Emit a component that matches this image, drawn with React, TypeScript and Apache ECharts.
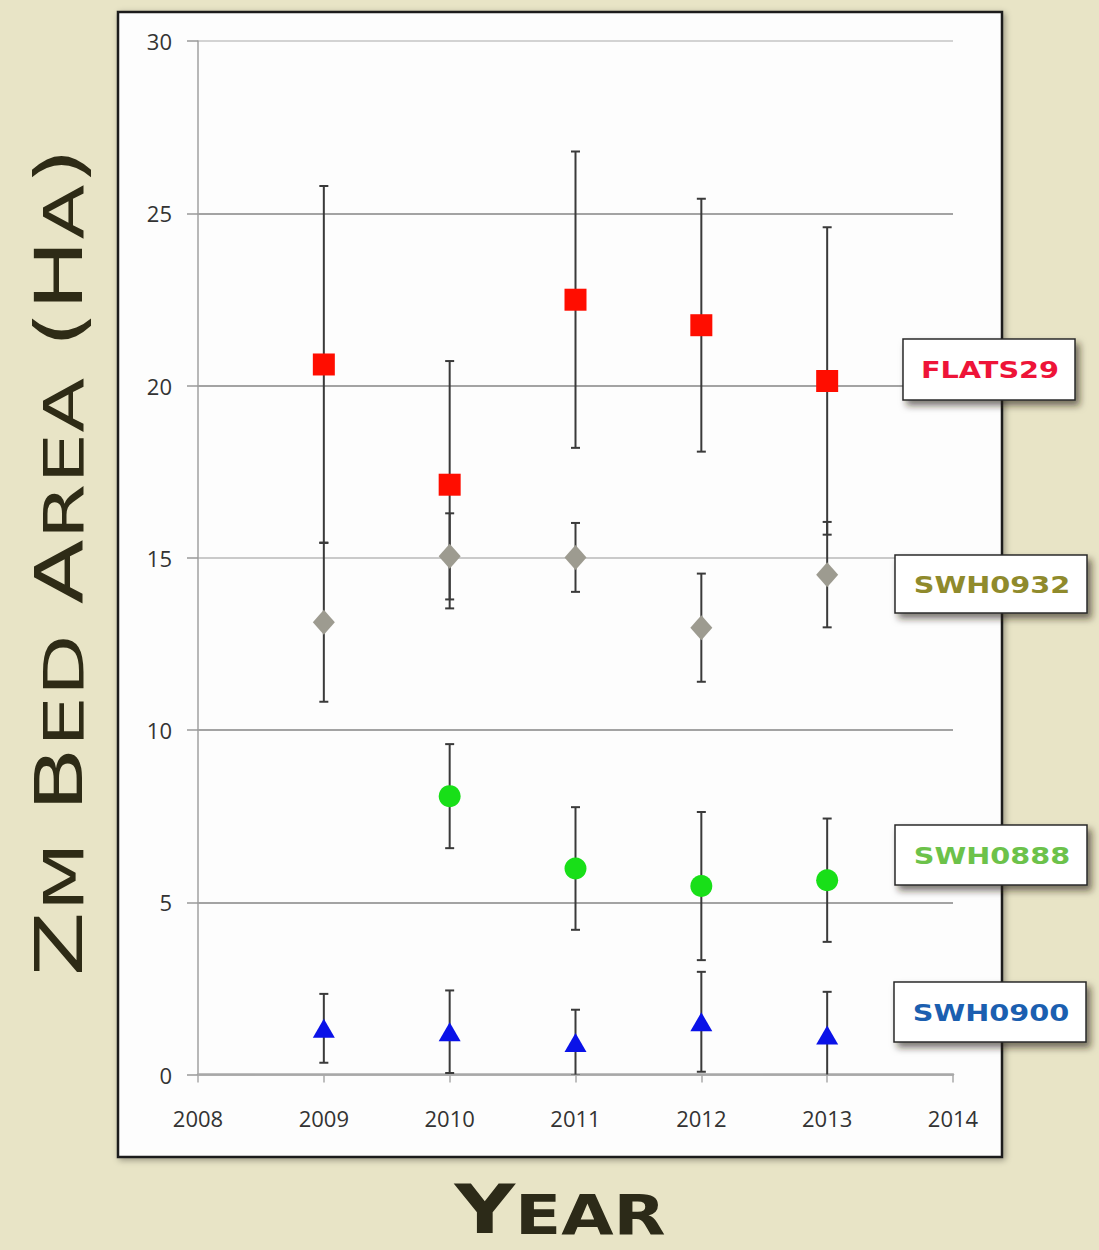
import React, { useEffect, useRef } from "react";
import * as echarts from "echarts";

const years = [2009, 2010, 2011, 2012, 2013];
const xTickLabels = ["2008", "2009", "2010", "2011", "2012", "2013", "2014"];
const yTickLabels = ["0", "5", "10", "15", "20", "25", "30"];

const flats29 = [20.61, 17.12, 22.49, 21.75, 20.13];
const flats29Err = [5.18, 3.59, 4.3, 3.67, 4.46];
const swh0932 = [13.13, 15.04, 15.01, 12.97, 14.51];
const swh0932Err = [2.31, 1.25, 1.0, 1.57, 1.53];
const swh0888: (number | null)[] = [null, 8.08, 5.98, 5.47, 5.64];
const swh0888Err: (number | null)[] = [null, 1.51, 1.78, 2.15, 1.79];
const swh0900 = [1.34, 1.24, 0.93, 1.53, 1.15];
const swh0900Err = [1.0, 1.2, 0.95, 1.45, 1.25];

const seriesNames = ["FLATS29", "SWH0932", "SWH0888", "SWH0900"];
const seriesColors = ["#ff0d00", "#9d9b90", "#18df18", "#0a12e8"];
const labelColors = ["#ee1438", "#8f8a2c", "#6cc24a", "#1b5fb0"];

function points(vals: (number | null)[]) {
  const out: number[][] = [];
  vals.forEach((v, i) => {
    if (v != null) out.push([years[i], v]);
  });
  return out;
}
function bars(vals: (number | null)[], errs: (number | null)[]) {
  const out: number[][] = [];
  vals.forEach((v, i) => {
    const e = errs[i];
    if (v != null && e != null) out.push([years[i], v - e, v + e]);
  });
  return out;
}

function errorSeries(data: number[][]) {
  return {
    type: "custom",
    clip: true,
    z: 2,
    encode: { x: 0, y: [1, 2] },
    data,
    renderItem: (params: any, api: any) => {
      const x = api.value(0);
      const lo = api.coord([x, api.value(1)]);
      const hi = api.coord([x, api.value(2)]);
      const w = 4.5;
      const style = { stroke: "#3a3a3a", lineWidth: 2 };
      return {
        type: "group",
        children: [
          { type: "line", shape: { x1: lo[0], y1: lo[1], x2: hi[0], y2: hi[1] }, style },
          { type: "line", shape: { x1: hi[0] - w, y1: hi[1], x2: hi[0] + w, y2: hi[1] }, style },
          { type: "line", shape: { x1: lo[0] - w, y1: lo[1], x2: lo[0] + w, y2: lo[1] }, style },
        ],
      };
    },
  };
}

const legendBoxes = [
  { x: 903, y: 339, w: 172, h: 61 },
  { x: 895, y: 555, w: 192, h: 58 },
  { x: 895, y: 825, w: 192, h: 60 },
  { x: 894, y: 982, w: 192, h: 60 },
];

export default function App() {
  const ref = useRef<HTMLDivElement>(null);
  useEffect(() => {
    document.body.style.margin = "0";
    if (!ref.current) return;
    const chart = echarts.init(ref.current, null, { renderer: "svg" });

    const legendEls: any[] = [];
    legendBoxes.forEach((b, i) => {
      legendEls.push({
        type: "rect",
        z: 100,
        shape: { x: b.x, y: b.y, width: b.w, height: b.h },
        style: {
          fill: "#ffffff",
          stroke: "#2a2a2a",
          lineWidth: 1.5,
          shadowBlur: 7,
          shadowOffsetX: 4,
          shadowOffsetY: 5,
          shadowColor: "rgba(40,35,10,0.6)",
        },
      });
      legendEls.push({
        type: "text",
        z: 101,
        x: b.x + b.w / 2 + 1,
        y: b.y + b.h / 2 + 1,
        scaleX: 1.25,
        style: {
          text: seriesNames[i],
          fill: labelColors[i],
          fontFamily: "DejaVu Sans",
          fontWeight: "bold",
          fontSize: 23,
          align: "center",
          verticalAlign: "middle",
        },
      });
    });

    const scatterBase = { type: "scatter", z: 5 };

    chart.setOption({
      animation: false,
      backgroundColor: "#e8e4c6",
      grid: {
        left: 198,
        right: 146,
        top: 41,
        bottom: 175.5,
        containLabel: false,
        outerBoundsMode: "none",
      },
      xAxis: {
        type: "value",
        min: 2008,
        max: 2014,
        interval: 1,
        axisLine: { show: true, lineStyle: { color: "#a8a8a8", width: 2.5 } },
        axisTick: { show: true, inside: false, length: 8, lineStyle: { color: "#a8a8a8", width: 1.5 } },
        splitLine: { show: false },
        axisLabel: {
          margin: 32,
          fontFamily: "Open Sans",
          fontSize: 22,
          color: "#333333",
          formatter: (v: number) => xTickLabels[Math.round(v - 2008)] ?? "",
        },
      },
      yAxis: {
        type: "value",
        min: 0,
        max: 30,
        interval: 5,
        axisLine: { show: true, lineStyle: { color: "#a0a0a0", width: 1.5 } },
        axisTick: { show: true, inside: false, length: 11, lineStyle: { color: "#999999", width: 1.5 } },
        splitLine: {
          show: true,
          lineStyle: {
            color: ["#aaaaaa", "#858585", "#858585", "#b8b8b8", "#858585", "#858585", "#c4c4c4"],
            width: 1.6,
          },
        },
        axisLabel: {
          margin: 26,
          fontFamily: "Open Sans",
          fontSize: 22,
          color: "#333333",
          formatter: (v: number) => yTickLabels[Math.round(v / 5)] ?? "",
        },
      },
      graphic: {
        elements: [
          {
            type: "rect",
            z: -50,
            silent: true,
            shape: { x: 118, y: 12, width: 884, height: 1145 },
            style: {
              fill: "#fdfdfd",
              stroke: "#1f1f1f",
              lineWidth: 2.5,
              shadowBlur: 6,
              shadowOffsetX: 2,
              shadowOffsetY: 2,
              shadowColor: "rgba(0,0,0,0.35)",
            },
          },
          {
            type: "text",
            z: 50,
            x: 59,
            y: 562,
            rotation: Math.PI / 2,
            scaleX: 1.435,
            style: {
              text: "{b|Z}{s|M} {b|B}{s|ED} {b|A}{s|REA} {b|(H}{s|A}{b|)}",
              fill: "#2e2b16",
              fontFamily: "DejaVu Sans",
              fontSize: 66,
              align: "center",
              verticalAlign: "middle",
              rich: {
                b: { fontFamily: "DejaVu Sans", fontSize: 66, fill: "#2e2b16", verticalAlign: "bottom" },
                s: { fontFamily: "DejaVu Sans", fontSize: 56, fill: "#2e2b16", verticalAlign: "bottom" },
              },
            },
          },
          {
            type: "text",
            z: 50,
            x: 560,
            y: 1217,
            scaleX: 1.23,
            style: {
              text: "{b|Y}{s|EAR}",
              fill: "#2c2a18",
              fontFamily: "DejaVu Sans",
              fontWeight: "bold",
              fontSize: 68,
              align: "center",
              verticalAlign: "middle",
              rich: {
                b: { fontFamily: "DejaVu Sans", fontWeight: "bold", fontSize: 68, lineHeight: 52, fill: "#2c2a18", verticalAlign: "bottom" },
                s: { fontFamily: "DejaVu Sans", fontWeight: "bold", fontSize: 55, lineHeight: 43, fill: "#2c2a18", verticalAlign: "bottom" },
              },
            },
          },
          ...legendEls,
        ],
      },
      series: [
        errorSeries(bars(flats29, flats29Err)),
        errorSeries(bars(swh0932, swh0932Err)),
        errorSeries(bars(swh0888, swh0888Err)),
        errorSeries(bars(swh0900, swh0900Err)),
        {
          ...scatterBase,
          name: seriesNames[1],
          symbol: "diamond",
          symbolSize: [22, 25],
          itemStyle: { color: seriesColors[1], opacity: 1 },
          data: points(swh0932),
        },
        {
          ...scatterBase,
          name: seriesNames[0],
          symbol: "rect",
          symbolSize: 22,
          itemStyle: { color: seriesColors[0], opacity: 1 },
          data: points(flats29),
        },
        {
          ...scatterBase,
          name: seriesNames[2],
          symbol: "circle",
          symbolSize: 22,
          itemStyle: { color: seriesColors[2], opacity: 1 },
          data: points(swh0888),
        },
        {
          ...scatterBase,
          name: seriesNames[3],
          symbol: "triangle",
          symbolSize: [22, 19],
          itemStyle: { color: seriesColors[3], opacity: 1 },
          data: points(swh0900),
        },
      ],
    });
    return () => chart.dispose();
  }, []);
  return <div ref={ref} style={{ width: 1099, height: 1250 }} />;
}
